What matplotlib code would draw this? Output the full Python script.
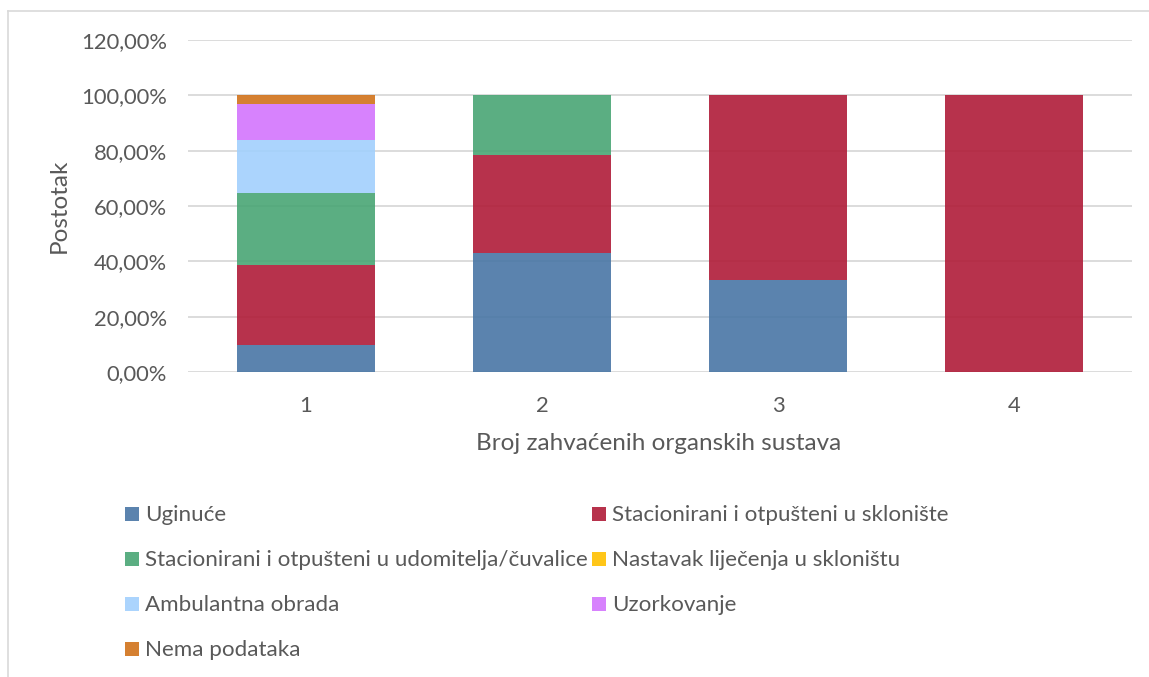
import matplotlib
matplotlib.use("Agg")
import matplotlib.pyplot as plt
from matplotlib import font_manager
from matplotlib.lines import Line2D
from matplotlib.patches import Rectangle

available = {f.name for f in font_manager.fontManager.ttflist}
main_font = "Lato" if "Lato" in available else "DejaVu Sans"

categories = ["1", "2", "3", "4"]
series_names = [
    "Uginuće",
    "Stacionirani i otpušteni u sklonište",
    "Stacionirani i otpušteni u udomitelja/čuvalice",
    "Nastavak liječenja u skloništu",
    "Ambulantna obrada",
    "Uzorkovanje",
    "Nema podataka",
]
uginuce = [9.68, 42.86, 33.33, 0.0]
skloniste = [29.03, 35.71, 66.67, 100.0]
udomitelja = [25.81, 21.43, 0.0, 0.0]
nastavak = [0.0, 0.0, 0.0, 0.0]
ambulantna = [19.35, 0.0, 0.0, 0.0]
uzorkovanje = [12.90, 0.0, 0.0, 0.0]
nema = [3.23, 0.0, 0.0, 0.0]
series_values = [uginuce, skloniste, udomitelja, nastavak, ambulantna, uzorkovanje, nema]
colors = ["#4976A5", "#B01C38", "#49A574", "#FFC000", "#A2D0FD", "#D375FD", "#D1721A"]
yticks = [0, 20, 40, 60, 80, 100, 120]
ytick_labels = ["0,00%", "20,00%", "40,00%", "60,00%", "80,00%", "100,00%", "120,00%"]

text_col = "#595959"
grid_col = "#D9D9D9"

W, H = 1149, 677
fig = plt.figure(figsize=(W / 100, H / 100), dpi=100)
fig.patch.set_facecolor("white")
ax = fig.add_axes([188 / W, 1 - 372 / H, (1132 - 188) / W, (372 - 40) / H])

x = list(range(len(categories)))
bottom = [0.0] * len(categories)
for name, vals, col in zip(series_names, series_values, colors):
    ax.bar(x, vals, bottom=bottom, width=0.585, color=col, alpha=0.9,
           edgecolor="none", zorder=3, label=name)
    bottom = [b + v for b, v in zip(bottom, vals)]

ax.set_xlim(-0.5, 3.5)
ax.set_ylim(0, 120)
ax.set_yticks(yticks)
ax.set_yticklabels(ytick_labels)
ax.set_xticks(x)
ax.set_xticklabels(categories)
ax.grid(axis="y", color=grid_col, linewidth=1.3, zorder=0)
ax.set_axisbelow(True)
for s in ax.spines.values():
    s.set_visible(False)
ax.tick_params(length=0, colors=text_col, labelsize=15.8)
ax.tick_params(axis="y", pad=15)
ax.tick_params(axis="x", pad=17)
for lab in ax.get_xticklabels() + ax.get_yticklabels():
    lab.set_fontfamily(main_font)

fig.text(659 / W, 1 - 443 / H, "Broj zahvaćenih organskih sustava", ha="center", va="center",
         fontsize=17.5, color=text_col, family=main_font)
fig.text(59 / W, 1 - 206 / H, "Postotak", ha="center", va="center", rotation=90,
         fontsize=17.5, color=text_col, family=main_font)

# legend: size the text so the longest label spans ~441 px like the original
leg_size = 15.0
renderer = fig.canvas.get_renderer()
probe = fig.text(0, 0, series_names[2], fontsize=leg_size, family=main_font)
wpx = probe.get_window_extent(renderer).width
probe.remove()
leg_size = leg_size * 441 / wpx

# row-wise, two columns; (marker x, baseline y) in pixels
col_x = [125, 592]
row_base = [521, 566, 611, 656]
for i, (name, col) in enumerate(zip(series_names, colors)):
    mx = col_x[i % 2]
    by = row_base[i // 2]
    fig.add_artist(Rectangle((mx / W, 1 - by / H), 14 / W, 14 / H, transform=fig.transFigure,
                             facecolor=col, alpha=0.9, edgecolor="none"))
    fig.text((mx + 20) / W, 1 - by / H, name, ha="left", va="baseline",
             fontsize=leg_size, color=text_col, family=main_font)

# outer chart frame (top and left edges visible)
fig.add_artist(Line2D([8 / W, 8 / W], [0, 1 - 11 / H], color=grid_col, linewidth=1.2))
fig.add_artist(Line2D([8 / W, 1], [1 - 11 / H, 1 - 11 / H], color=grid_col, linewidth=1.2))

fig.savefig("out.png", dpi=100, facecolor="white")
